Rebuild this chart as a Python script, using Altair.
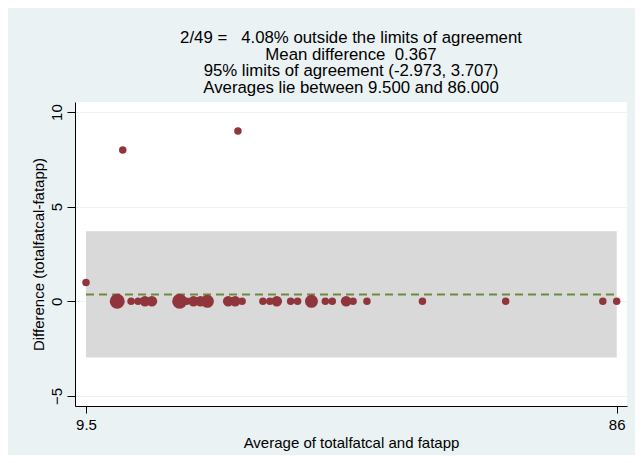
import altair as alt
import pandas as pd

# ---- data ----
zero_avg = [14, 16, 17, 18, 19, 23, 24, 25, 26, 27, 30, 31, 32, 35, 36, 37,
            39, 40, 42, 44, 45, 47, 48, 50, 58, 70, 84, 86]
zero_cnt = [4, 1, 1, 2, 2, 4, 1, 2, 2, 3, 2, 2, 1, 1, 1, 2,
            1, 1, 3, 1, 1, 2, 1, 1, 1, 1, 1, 1]
other_avg = [9.5, 14.8, 31.4]
other_diff = [1, 8, 9]
other_cnt = [1, 1, 1]

mean_diff = 0.367
loa_low = -2.973
loa_high = 3.707
avg_min = 9.5
avg_max = 86.0

title_lines = [
    "2/49 =\u00a0\u00a0 4.08% outside the limits of agreement",
    "Mean difference\u00a0 0.367",
    "95% limits of agreement (-2.973, 3.707)",
    "Averages lie between 9.500 and 86.000",
]
x_ticks = [9.5, 86]
y_ticks = [-5, 0, 5, 10]

pts = pd.DataFrame({
    "avg": zero_avg + other_avg,
    "diff": [0] * len(zero_avg) + other_diff,
    "count": zero_cnt + other_cnt,
})
band = pd.DataFrame({"x1": [avg_min], "x2": [avg_max], "y1": [loa_low], "y2": [loa_high], "m": [mean_diff]})

FONT = "Liberation Sans"
xscale = alt.Scale(domain=[7.914, 87.485], nice=False, zero=False)
yscale = alt.Scale(domain=[-5.53, 10.53], nice=False, zero=False)

xaxis = alt.Axis(values=x_ticks, format="~g", title="Average of totalfatcal and fatapp",
                 grid=False, tickSize=7, labelPadding=4, titlePadding=3)
yaxis = alt.Axis(values=y_ticks, title="Difference (totalfatcal-fatapp)", grid=True,
                 gridColor="#EAF2F3", tickSize=8, labelAngle=270, labelAlign="center",
                 labelBaseline="bottom", labelPadding=3, titlePadding=3)

rect = alt.Chart(band).mark_rect(color="#D9D9D9").encode(
    x=alt.X("x1:Q", scale=xscale, axis=xaxis),
    x2="x2:Q",
    y=alt.Y("y1:Q", scale=yscale, axis=yaxis),
    y2="y2:Q",
)

rule = alt.Chart(band).mark_rule(color="#6E8B3D", strokeWidth=2, strokeDash=[8, 5]).encode(
    x=alt.X("x1:Q", scale=xscale),
    x2="x2:Q",
    y=alt.Y("m:Q", scale=yscale),
)

points = alt.Chart(pts).mark_circle(color="#90353B", opacity=1).encode(
    x=alt.X("avg:Q", scale=xscale),
    y=alt.Y("diff:Q", scale=yscale),
    size=alt.Size("count:Q", scale=alt.Scale(domain=[0, 4], range=[0, 224]), legend=None),
)

chart = alt.layer(rect, rule, points).properties(
    width=552,
    height=304,
    title=alt.TitleParams(text=title_lines, anchor="middle", fontSize=16.8, lineHeight=16.8,
                          font=FONT, fontWeight="normal", color="black", offset=5),
    autosize=alt.AutoSizeParams(type="none"),
    padding={"left": 67, "top": 94, "right": 8, "bottom": 49},
    background="#EAF2F3",
).configure_view(
    fill="white", stroke=None
).configure_axis(
    labelFont=FONT, titleFont=FONT, labelFontSize=15, titleFontSize=15,
    labelColor="black", titleColor="black", titleFontWeight="normal",
    domainColor="black", tickColor="black", domainWidth=1, tickWidth=1,
)

chart.save("out.html", embed_options={"renderer": "svg", "actions": False})
